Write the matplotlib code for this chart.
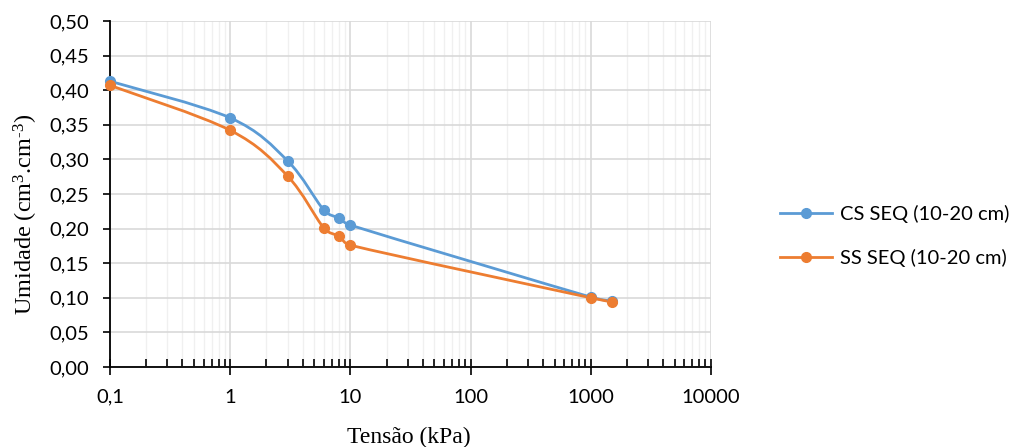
import numpy as np
import matplotlib.pyplot as plt
from matplotlib.path import Path
from matplotlib.patches import PathPatch
from matplotlib.lines import Line2D
from matplotlib.transforms import IdentityTransform
from matplotlib.ticker import LogLocator, FixedLocator, FuncFormatter

# data
tensao = [0.1, 1, 3, 6, 8, 10, 1000, 1500]
cs_seq = [0.413, 0.360, 0.298, 0.227, 0.215, 0.205, 0.101, 0.095]
ss_seq = [0.407, 0.342, 0.276, 0.201, 0.189, 0.176, 0.100, 0.094]
series_names = ['CS SEQ (10-20 cm)', 'SS SEQ (10-20 cm)']
colors = ['#5B9BD5', '#ED7D31']

plt.rcParams['mathtext.fontset'] = 'custom'
plt.rcParams['mathtext.rm'] = 'Liberation Serif'
plt.rcParams['mathtext.it'] = 'Liberation Serif:italic'


def smooth_path(ax, x, y):
    # excel style smoothed line, bezier segments built in screen space,
    # handles limited to half the segment length so short segments don't loop
    pts = ax.transData.transform(np.column_stack([x, y]))
    n = len(pts)
    verts = [pts[0]]
    codes = [Path.MOVETO]
    for i in range(n - 1):
        p0 = pts[max(i - 1, 0)]
        p1 = pts[i]
        p2 = pts[i + 1]
        p3 = pts[min(i + 2, n - 1)]
        d12 = np.hypot(*(p2 - p1))
        d02 = np.hypot(*(p2 - p0))
        d13 = np.hypot(*(p3 - p1))
        f1 = min(1 / 6, 0.5 * d12 / d02) if d02 > 0 else 0
        f2 = min(1 / 6, 0.5 * d12 / d13) if d13 > 0 else 0
        verts += [p1 + (p2 - p0) * f1, p2 - (p3 - p1) * f2, p2]
        codes += [Path.CURVE4] * 3
    return Path(verts, codes)


fig = plt.figure(figsize=(10.22, 4.47), dpi=100)
ax = fig.add_axes([110 / 1022, 1 - 367 / 447, (711 - 110) / 1022, (367 - 21) / 447])

ax.set_xscale('log')
ax.set_xlim(0.1, 10000)
ax.set_ylim(0, 0.5)

handles = []
for ys, c in zip([cs_seq, ss_seq], colors):
    ax.add_patch(PathPatch(smooth_path(ax, tensao, ys), facecolor='none',
                           edgecolor=c, lw=2.0, zorder=3,
                           transform=IdentityTransform()))
    ax.plot(tensao, ys, ls='none', marker='o', ms=7, color=c, zorder=4,
            clip_on=False)
    handles.append(Line2D([], [], color=c, lw=2.0, marker='o', ms=7))

ax.set_yticks(np.arange(0, 0.51, 0.05))
ax.yaxis.set_major_formatter(FuncFormatter(lambda v, p: f'{v:.2f}'.replace('.', ',')))
ax.xaxis.set_major_locator(FixedLocator([0.1, 1, 10, 100, 1000, 10000]))
ax.xaxis.set_major_formatter(FuncFormatter(lambda v, p: f'{v:g}'.replace('.', ',')))
ax.xaxis.set_minor_locator(LogLocator(base=10, subs=np.arange(2, 10), numticks=20))

ax.grid(True, which='major', color='#D9D9D9', lw=1.2, zorder=0)
ax.grid(True, which='minor', axis='x', color='#F0F0F0', lw=1.0, zorder=0)
ax.set_axisbelow(True)

for s in ['top', 'right']:
    ax.spines[s].set_visible(False)
for s in ['left', 'bottom']:
    ax.spines[s].set_linewidth(1.3)
    ax.spines[s].set_color('black')

tick_font = 'Lato'
ax.tick_params(axis='y', which='major', direction='out', length=5, width=1.2,
               labelsize=14.5, pad=10)
ax.tick_params(axis='x', which='major', direction='inout', length=11, width=1.2,
               labelsize=14.5, pad=10)
ax.tick_params(axis='x', which='minor', direction='in', length=6, width=1.2)
for lab in ax.get_xticklabels() + ax.get_yticklabels():
    lab.set_fontfamily(tick_font)

ax.set_xlabel('Tensão (kPa)', family='Liberation Serif', fontsize=17)
ax.set_ylabel('Umidade (cm$^{3}$.cm$^{\\text{-}3}$)', family='Liberation Serif',
              fontsize=17.5)
ax.xaxis.set_label_coords(0.497, -0.174)
ax.yaxis.set_label_coords(-0.117, 0.44)

fig.legend(handles, series_names, loc='center left',
           bbox_to_anchor=(762 / 1022, 1 - 236 / 447),
           frameon=False, handlelength=2.6, handletextpad=0.35, labelspacing=1.3,
           prop={'family': tick_font, 'size': 14.5})

fig.savefig('out.png', dpi=100)
